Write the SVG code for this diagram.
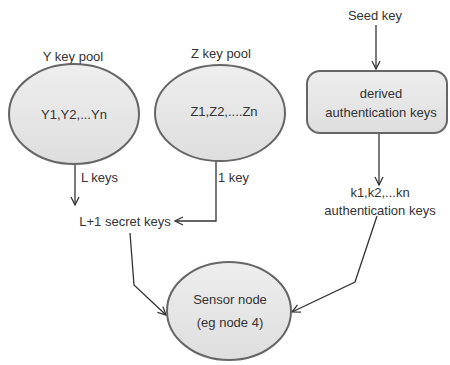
<svg xmlns="http://www.w3.org/2000/svg" width="450" height="365" viewBox="0 0 450 365">
<defs>
<linearGradient id="g" x1="0" y1="0" x2="0" y2="1">
<stop offset="0" stop-color="#eeeeee"/>
<stop offset="1" stop-color="#dedede"/>
</linearGradient>
<marker id="a" viewBox="0 0 10 10" refX="9" refY="5" markerWidth="10" markerHeight="10" markerUnits="userSpaceOnUse" orient="auto">
<path d="M1,1 L9,5 L1,9" fill="none" stroke="#333" stroke-width="1.3"/>
</marker>
<style>
.shape{fill:url(#g);stroke:#666;stroke-width:2}
.t{font-family:"Liberation Sans",Arial,sans-serif;font-size:13px;fill:#333}
.m{text-anchor:middle}
.c{fill:none;stroke:#333;stroke-width:1.3;marker-end:url(#a)}
</style>
</defs>
<rect width="450" height="365" fill="#fff"/>
<g id="connectors">
<path class="c" d="M376,25 L376,69"/>
<path class="c" d="M75,165 L75,205"/>
<path class="c" d="M216,161 L216,221 L175,221"/>
<path class="c" d="M379,134 L379,185"/>
<path class="c" d="M130,233 L134,285 L166,315"/>
<path class="c" d="M377,216 L355,282 L292,312"/>
</g>
<g id="seed">
<text class="t m" x="375" y="19.5">Seed key</text>
</g>
<g id="ypool">
<text class="t m" x="73" y="60.5">Y key pool</text>
<ellipse class="shape" cx="74" cy="114" rx="65" ry="50"/>
<text class="t m" x="74" y="118.5">Y1,Y2,...Yn</text>
</g>
<g id="zpool">
<text class="t m" x="221" y="57.5">Z key pool</text>
<ellipse class="shape" cx="220" cy="113" rx="65" ry="48"/>
<text class="t m" x="224" y="115.5">Z1,Z2,....Zn</text>
</g>
<g id="derived">
<rect class="shape" x="307" y="71" width="140" height="62" rx="13" ry="13"/>
<text class="t m" x="381" y="97.5">derived</text>
<text class="t m" x="381" y="116.5">authentication keys</text>
</g>
<g id="lkeys">
<text class="t" x="81" y="181.5">L keys</text>
</g>
<g id="onekey">
<text class="t" x="218" y="181.5">1 key</text>
</g>
<g id="secret">
<text class="t m" x="125" y="225.5">L+1 secret keys</text>
</g>
<g id="auth">
<text class="t m" x="380" y="196.5">k1,k2,...kn</text>
<text class="t m" x="380" y="214.5">authentication keys</text>
</g>
<g id="sensor">
<ellipse class="shape" cx="229" cy="311" rx="62" ry="49"/>
<text class="t m" x="230" y="303.5">Sensor node</text>
<text class="t m" x="230" y="326.5">(eg node 4)</text>
</g>
</svg>
